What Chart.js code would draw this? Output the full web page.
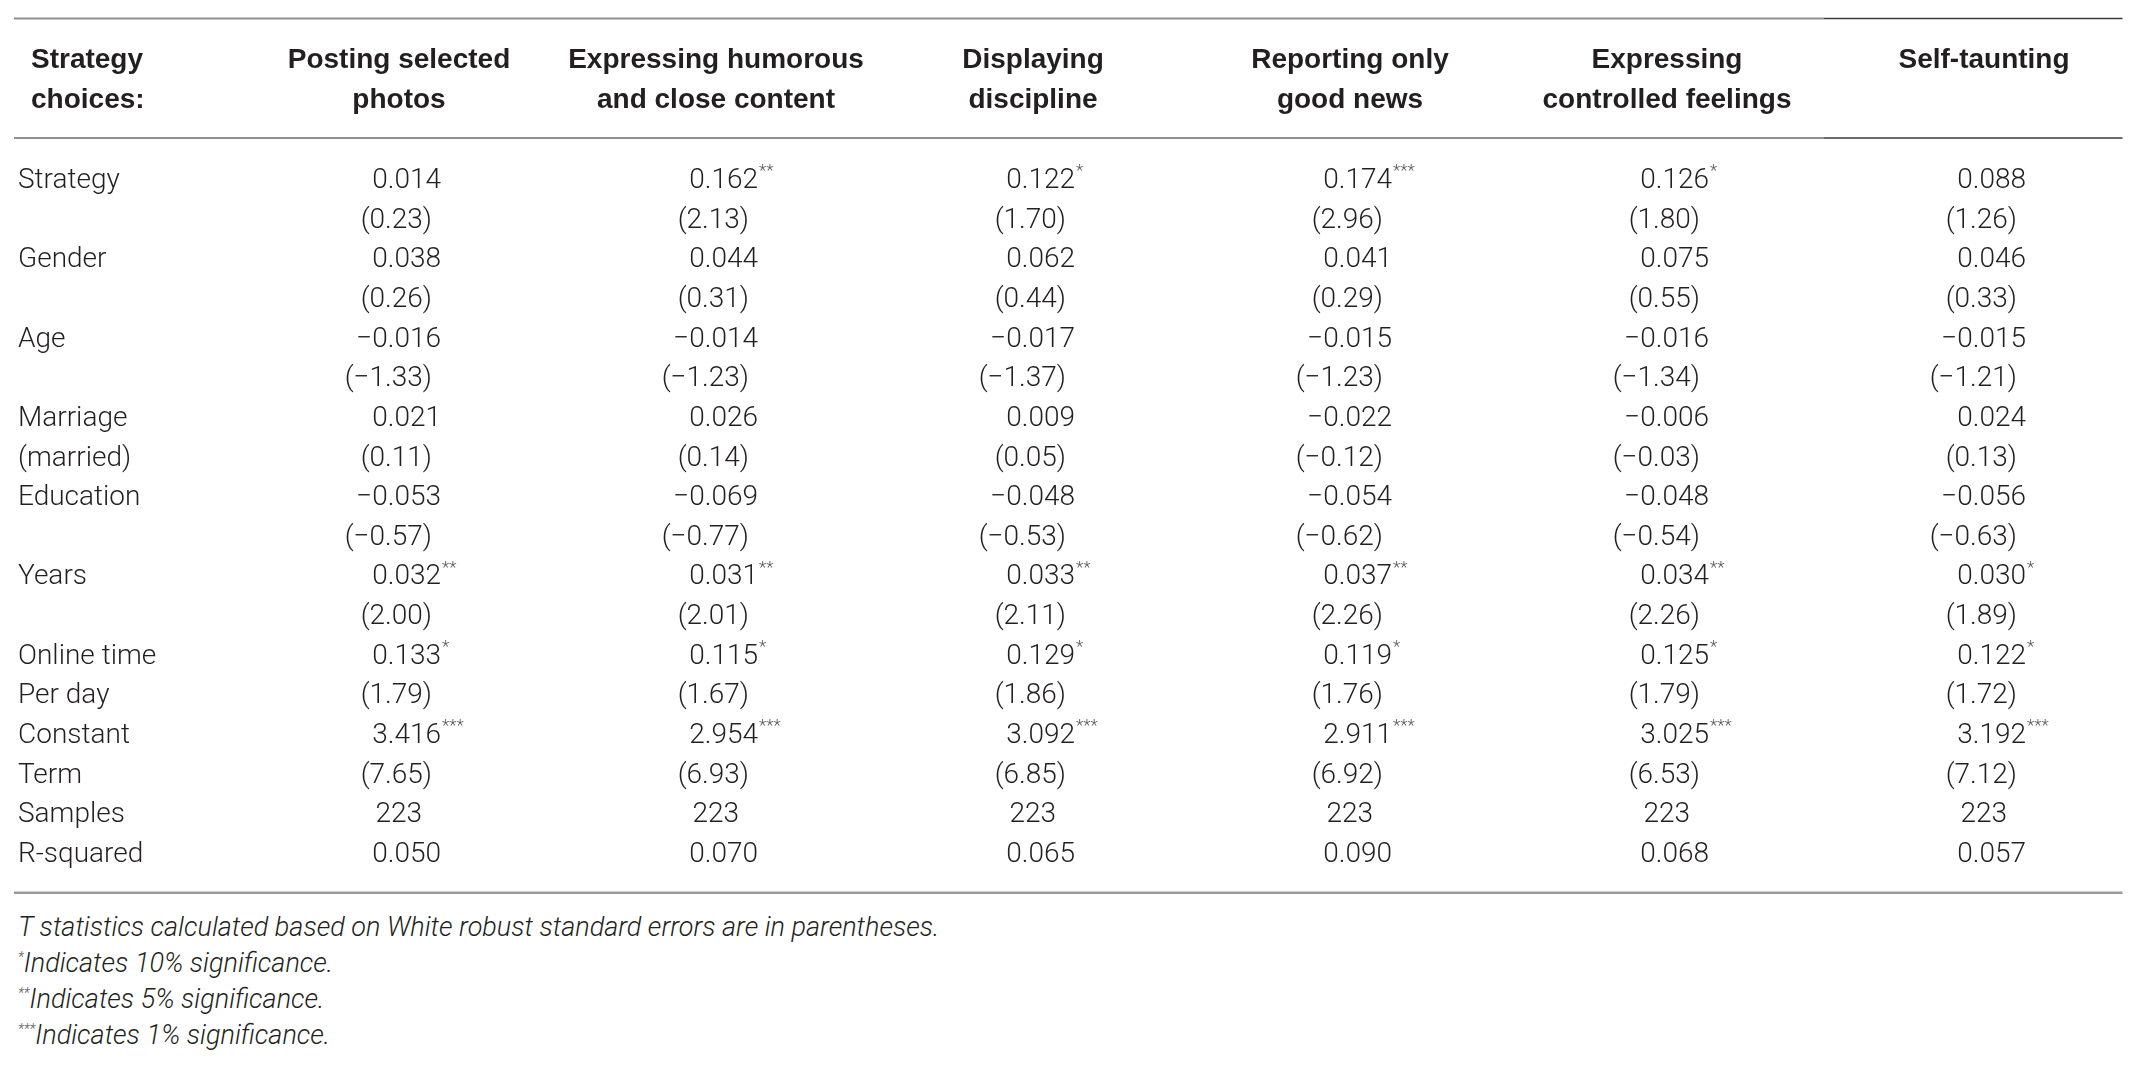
<!DOCTYPE html>
<html>
<head>
<meta charset="utf-8">
<script src="https://cdn.jsdelivr.net/npm/chart.js@4.4.0/dist/chart.umd.min.js"></script>
<style>
    body { margin: 0; background: #fff; }
    #wrap { position: absolute; left: 0; top: 0; width: 2144px; height: 900px; }
    #notes {
        position: absolute; left: 18px; top: 909px;
        font: italic 300 27px Roboto, 'Liberation Sans', sans-serif;
        line-height: 36px; color: #231f20;
    }
    #notes p { margin: 0; }
    #notes sup { font-size: 14px; line-height: 0; vertical-align: 10px; color: #555; }
</style>
</head>
<body>
<div id="wrap"><canvas id="table"></canvas></div>
<div id="notes">
    <p>T statistics calculated based on White robust standard errors are in parentheses.</p>
    <p><sup>*</sup>Indicates 10% significance.</p>
    <p><sup>**</sup>Indicates 5% significance.</p>
    <p><sup>***</sup>Indicates 1% significance.</p>
</div>
<script>
// Regression results by self-presentation strategy

const rowLabels = ['Strategy', '', 'Gender', '', 'Age', '', 'Marriage', '(married)',
    'Education', '', 'Years', '', 'Online time', 'Per day', 'Constant', 'Term',
    'Samples', 'R-squared'];

const colHeaders = [
    ['Posting selected', 'photos'],
    ['Expressing humorous', 'and close content'],
    ['Displaying', 'discipline'],
    ['Reporting only', 'good news'],
    ['Expressing', 'controlled feelings'],
    ['Self-taunting', '']
];

const postingPhotos = ['0.014', '(0.23)', '0.038', '(0.26)', '−0.016', '(−1.33)', '0.021', '(0.11)',
    '−0.053', '(−0.57)', '0.032**', '(2.00)', '0.133*', '(1.79)', '3.416***', '(7.65)', '223', '0.050'];
const humorousContent = ['0.162**', '(2.13)', '0.044', '(0.31)', '−0.014', '(−1.23)', '0.026', '(0.14)',
    '−0.069', '(−0.77)', '0.031**', '(2.01)', '0.115*', '(1.67)', '2.954***', '(6.93)', '223', '0.070'];
const displayingDiscipline = ['0.122*', '(1.70)', '0.062', '(0.44)', '−0.017', '(−1.37)', '0.009', '(0.05)',
    '−0.048', '(−0.53)', '0.033**', '(2.11)', '0.129*', '(1.86)', '3.092***', '(6.85)', '223', '0.065'];
const goodNewsOnly = ['0.174***', '(2.96)', '0.041', '(0.29)', '−0.015', '(−1.23)', '−0.022', '(−0.12)',
    '−0.054', '(−0.62)', '0.037**', '(2.26)', '0.119*', '(1.76)', '2.911***', '(6.92)', '223', '0.090'];
const controlledFeelings = ['0.126*', '(1.80)', '0.075', '(0.55)', '−0.016', '(−1.34)', '−0.006', '(−0.03)',
    '−0.048', '(−0.54)', '0.034**', '(2.26)', '0.125*', '(1.79)', '3.025***', '(6.53)', '223', '0.068'];
const selfTaunting = ['0.088', '(1.26)', '0.046', '(0.33)', '−0.015', '(−1.21)', '0.024', '(0.13)',
    '−0.056', '(−0.63)', '0.030*', '(1.89)', '0.122*', '(1.72)', '3.192***', '(7.12)', '223', '0.057'];

const columns = [postingPhotos, humorousContent, displayingDiscipline, goodNewsOnly, controlledFeelings, selfTaunting];

const TEXT = '#231f20';
const LIGHT = '300 28px Roboto, "Liberation Sans", sans-serif';
const BOLD = 'bold 28px "Liberation Sans", Arial, sans-serif';

// writes each cell's value next to its (invisible) point
const cellText = {
    id: 'cellText',
    afterDatasetsDraw(chart) {
        const ctx = chart.ctx;
        ctx.save();
        ctx.textBaseline = 'middle';
        chart.data.datasets.forEach((ds, i) => {
            chart.getDatasetMeta(i).data.forEach((pt, j) => {
                const raw = ds.data[j].text;
                const num = raw.replace(/\*+$/, '');
                const stars = raw.slice(num.length);
                let shift = 42;
                if (num.startsWith('(')) shift = 33;
                else if (!num.includes('.')) shift = 23;
                const right = pt.x + shift;
                ctx.font = LIGHT;
                ctx.fillStyle = TEXT;
                ctx.textAlign = 'right';
                ctx.fillText(num, right, pt.y);
                if (stars) {
                    ctx.font = '300 17px Roboto, "Liberation Sans", sans-serif';
                    ctx.fillStyle = '#555';
                    ctx.textAlign = 'left';
                    ctx.fillText(stars, right + 1, pt.y - 9);
                }
            });
        });
        ctx.restore();
    }
};

// horizontal rules and the corner header
const tableRules = {
    id: 'tableRules',
    afterDraw(chart) {
        const {ctx, chartArea, scales: {x, y}} = chart;
        const left = y.left - 4;
        const right = chartArea.right - 20;
        const split = x.getPixelForValue(5) - 160;
        const rowGap = y.getPixelForValue(1) - y.getPixelForValue(0);
        ctx.save();

        const rule = (yy, x0, x1, color, w) => {
            ctx.beginPath();
            ctx.strokeStyle = color;
            ctx.lineWidth = w;
            ctx.moveTo(x0, yy);
            ctx.lineTo(x1, yy);
            ctx.stroke();
        };
        [18.5, chartArea.top - 43].forEach(yy => {
            rule(yy, left, split, '#8e8e8e', 2);
            rule(yy, split, right, '#3a3a3a', 1.5);
        });
        rule(chartArea.bottom + rowGap - 2, left, right, '#9a9a9a', 2.5);

        const lastLine = chartArea.top - 61 - 20;
        ctx.font = BOLD;
        ctx.fillStyle = TEXT;
        ctx.textAlign = 'left';
        ctx.textBaseline = 'middle';
        ctx.fillText('Strategy', left + 17, lastLine - 40);
        ctx.fillText('choices:', left + 17, lastLine);
        ctx.restore();
    }
};

const datasets = columns.map((values, c) => ({
    label: colHeaders[c].join(' '),
    data: values.map((text, r) => ({x: c, y: r, text: text})),
    pointRadius: 0,
    pointHoverRadius: 0,
    showLine: false
}));

new Chart(document.getElementById('table'), {
    type: 'scatter',
    data: {datasets: datasets},
    plugins: [cellText, tableRules],
    options: {
        responsive: true,
        maintainAspectRatio: false,
        animation: false,
        parsing: false,
        events: [],
        layout: {padding: {left: 18, right: 1.5, top: 0, bottom: 45}},
        plugins: {
            legend: {display: false},
            tooltip: {enabled: false}
        },
        scales: {
            x: {
                type: 'category',
                labels: colHeaders,
                position: 'top',
                offset: true,
                grid: {display: false, drawTicks: false},
                border: {display: false},
                ticks: {
                    font: {family: '"Liberation Sans", Arial, sans-serif', size: 28, weight: 'bold', lineHeight: 1.43},
                    color: TEXT,
                    padding: 61,
                    autoSkip: false,
                    maxRotation: 0
                },
                afterFit: scale => { scale.height = 181; }
            },
            y: {
                type: 'category',
                labels: rowLabels,
                offset: false,
                grid: {display: false, drawTicks: false},
                border: {display: false},
                ticks: {
                    font: {family: 'Roboto, "Liberation Sans", sans-serif', size: 28, weight: '300'},
                    color: TEXT,
                    crossAlign: 'far',
                    autoSkip: false
                },
                afterFit: scale => { scale.width = 222.5; }
            }
        }
    }
});
</script>
</body>
</html>
